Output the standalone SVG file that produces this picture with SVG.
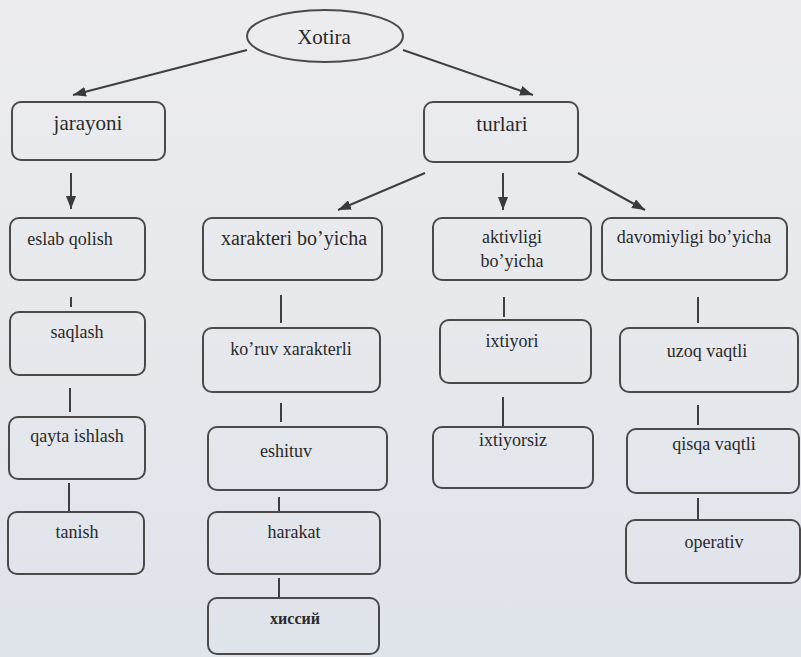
<svg xmlns="http://www.w3.org/2000/svg" width="801" height="657" viewBox="0 0 801 657">
<defs>
<linearGradient id="bg" x1="0" y1="0" x2="0" y2="1">
<stop offset="0" stop-color="#ececee"/>
<stop offset="0.5" stop-color="#e6e8ec"/>
<stop offset="1" stop-color="#dfe3ea"/>
</linearGradient>
<marker id="ah" markerUnits="userSpaceOnUse" markerWidth="14" markerHeight="10" refX="13" refY="5" orient="auto">
<path d="M0,0 L13,5 L0,10 z" fill="#3a3a3a"/>
</marker>
<style>
.box{fill:none;stroke:#4a4a4a;stroke-width:2}
.t{font-size:18px;fill:#2a2a2a;text-anchor:middle}
.big{font-size:21px}
.con line{stroke:#3f3f3f;stroke-width:2}
.arr{marker-end:url(#ah)}
</style>
</defs>
<rect width="801" height="657" fill="url(#bg)"/>

<g id="connectors" class="con">
<line class="arr" x1="247" y1="50" x2="73" y2="95"/>
<line class="arr" x1="403" y1="50" x2="533" y2="95"/>
<line class="arr" x1="71" y1="173" x2="71" y2="209"/>
<line class="arr" x1="425" y1="173" x2="338" y2="210"/>
<line class="arr" x1="503" y1="173" x2="503" y2="210"/>
<line class="arr" x1="578" y1="173" x2="645" y2="210"/>
<line x1="71" y1="297" x2="71" y2="307"/>
<line x1="281" y1="295" x2="281" y2="323"/>
<line x1="504" y1="297" x2="504" y2="317"/>
<line x1="698" y1="297" x2="698" y2="323"/>
<line x1="70" y1="388" x2="70" y2="412"/>
<line x1="281" y1="403" x2="281" y2="422"/>
<line x1="503" y1="397" x2="503" y2="427"/>
<line x1="698" y1="405" x2="698" y2="425"/>
<line x1="69" y1="483" x2="69" y2="512"/>
<line x1="279" y1="497" x2="279" y2="512"/>
<line x1="279" y1="578" x2="279" y2="598"/>
<line x1="698" y1="498" x2="698" y2="520"/>
</g>

<g font-family="'Liberation Serif', 'DejaVu Serif', serif">
<g id="xotira">
<ellipse class="box" cx="325" cy="36" rx="78" ry="26"/>
<text class="t big" x="324" y="44">Xotira</text>
</g>
<g id="jarayoni">
<rect class="box" x="12" y="102" width="153" height="58" rx="9"/>
<text class="t big" x="88" y="130">jarayoni</text>
</g>
<g id="turlari">
<rect class="box" x="424" y="102" width="154" height="60" rx="9"/>
<text class="t big" x="502" y="131">turlari</text>
</g>

<g id="eslab-qolish">
<rect class="box" x="10" y="218" width="135" height="62" rx="9"/>
<text class="t" x="70" y="245">eslab qolish</text>
</g>
<g id="xarakteri">
<rect class="box" x="203" y="218" width="179" height="62" rx="9"/>
<text class="t" x="294" y="245" style="font-size:20px">xarakteri bo’yicha</text>
</g>
<g id="aktivligi">
<rect class="box" x="433" y="218" width="158" height="62" rx="9"/>
<text class="t" x="512" y="243">aktivligi</text>
<text class="t" x="512" y="267">bo’yicha</text>
</g>
<g id="davomiyligi">
<rect class="box" x="602" y="218" width="185" height="62" rx="9"/>
<text class="t" x="694" y="243">davomiyligi bo’yicha</text>
</g>

<g id="saqlash">
<rect class="box" x="10" y="312" width="135" height="63" rx="9"/>
<text class="t" x="77" y="338">saqlash</text>
</g>
<g id="koruv">
<rect class="box" x="203" y="328" width="177" height="64" rx="9"/>
<text class="t" x="291" y="355">ko’ruv xarakterli</text>
</g>
<g id="ixtiyori">
<rect class="box" x="440" y="320" width="151" height="63" rx="9"/>
<text class="t" x="512" y="347">ixtiyori</text>
</g>
<g id="uzoq">
<rect class="box" x="620" y="328" width="178" height="64" rx="9"/>
<text class="t" x="707" y="357">uzoq vaqtli</text>
</g>

<g id="qayta">
<rect class="box" x="9" y="417" width="136" height="62" rx="9"/>
<text class="t" x="77" y="442">qayta ishlash</text>
</g>
<g id="eshituv">
<rect class="box" x="208" y="427" width="179" height="63" rx="9"/>
<text class="t" x="286" y="457">eshituv</text>
</g>
<g id="ixtiyorsiz">
<rect class="box" x="433" y="427" width="160" height="61" rx="9"/>
<text class="t" x="513" y="446">ixtiyorsiz</text>
</g>
<g id="qisqa">
<rect class="box" x="627" y="429" width="172" height="64" rx="9"/>
<text class="t" x="714" y="450">qisqa vaqtli</text>
</g>

<g id="tanish">
<rect class="box" x="8" y="512" width="136" height="62" rx="9"/>
<text class="t" x="77" y="538">tanish</text>
</g>
<g id="harakat">
<rect class="box" x="208" y="512" width="172" height="62" rx="9"/>
<text class="t" x="294" y="538">harakat</text>
</g>
<g id="operativ">
<rect class="box" x="626" y="520" width="174" height="63" rx="9"/>
<text class="t" x="714" y="548">operativ</text>
</g>
<g id="hissiy">
<rect class="box" x="208" y="598" width="171" height="56" rx="9"/>
<text class="t" x="295" y="624" font-weight="bold" style="font-size:16px">хиссий</text>
</g>
</g>
</svg>
